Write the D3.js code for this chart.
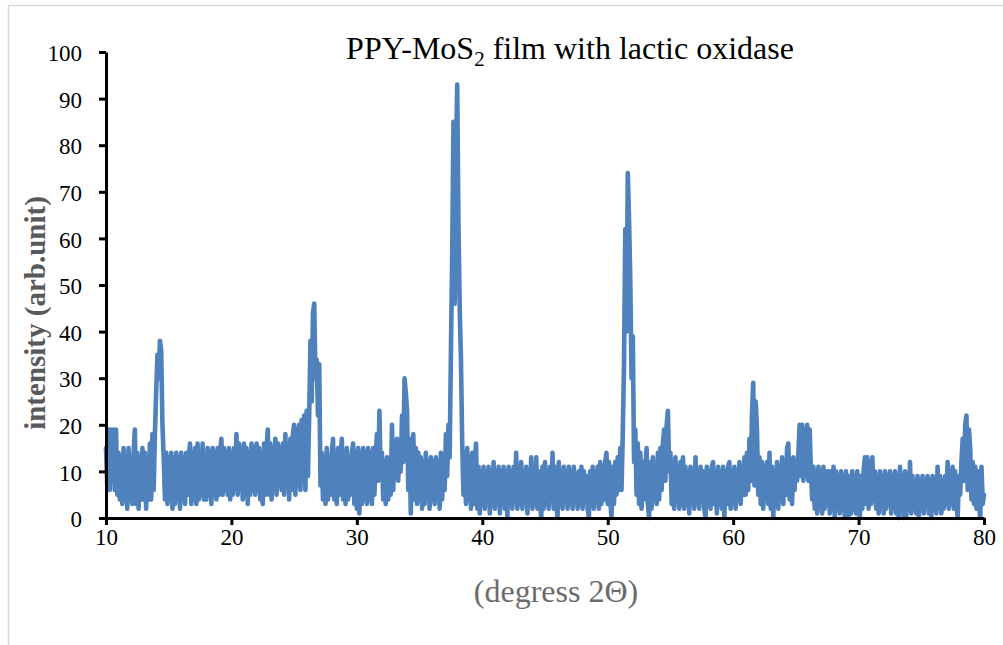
<!DOCTYPE html>
<html>
<head>
<meta charset="utf-8">
<script src="https://cdn.jsdelivr.net/npm/d3@7"></script>
<style>
  body { margin: 0; background: #fff; }
  svg { display: block; }
</style>
</head>
<body>
<div id="chart"></div>
<script>
// XRD pattern, PPY-MoS2 film with lactic oxidase
// intensity sampled every 0.1 degree from 10.0 to 80.0 (read off the plot)
const angleStart = 10;
const angleStep = 0.1;

const intensity = [
  15, 7, 19, 6, 19, 8, 19, 6, 19, 5,    // 10
  14, 4, 13, 3, 15, 4, 13, 2, 15, 4,    // 11
  13, 3, 14, 19, 3, 14, 2, 13, 4, 15,   // 12
  4, 14, 2, 13, 4, 16, 4, 18, 6, 18,    // 13
  27, 35, 30, 38, 36, 20, 13, 4, 14, 3, // 14
  13, 4, 14, 2, 13, 3, 14, 4, 13, 2,    // 15
  14, 4, 13, 3, 14, 5, 13, 16, 3, 14,   // 16
  4, 15, 3, 16, 4, 14, 5, 16, 4, 13,    // 17
  4, 15, 5, 14, 3, 15, 5, 14, 4, 15,    // 18
  5, 14, 17, 5, 15, 6, 14, 5, 15, 4,    // 19
  14, 5, 15, 6, 18, 5, 16, 6, 15, 4,    // 20
  16, 5, 15, 3, 14, 5, 16, 6, 15, 5,    // 21
  16, 6, 15, 4, 14, 3, 16, 5, 15, 19,   // 22
  5, 16, 4, 15, 6, 17, 5, 16, 7, 15,    // 23
  6, 16, 5, 18, 7, 16, 4, 17, 6, 18,    // 24
  20, 5, 19, 7, 20, 6, 21, 8, 22, 6,    // 25
  23, 9, 22, 38, 25, 44, 46, 30, 34, 22, // 26
  33, 7, 14, 4, 13, 3, 15, 4, 13, 5,    // 27
  14, 17, 4, 13, 3, 15, 5, 13, 17, 4,   // 28
  14, 3, 15, 4, 13, 5, 14, 16, 3, 14,   // 29
  2, 15, 1, 14, 3, 15, 4, 14, 3, 15,    // 30
  4, 14, 3, 15, 5, 13, 18, 8, 23, 9,    // 31
  14, 4, 12, 3, 13, 4, 12, 5, 20, 6,    // 32
  15, 9, 17, 8, 16, 10, 22, 12, 30, 27, // 33
  23, 6, 17, 1, 14, 18, 4, 15, 3, 14,   // 34
  4, 13, 2, 12, 3, 14, 5, 12, 2, 13,    // 35
  4, 12, 3, 13, 5, 12, 2, 14, 4, 13,    // 36
  6, 18, 9, 20, 13, 36, 56, 85, 46, 76, // 37
  93, 63, 45, 34, 16, 5, 14, 3, 15, 4,  // 38
  13, 2, 14, 3, 12, 16, 2, 11, 1, 10,   // 39
  3, 11, 2, 10, 4, 11, 1, 10, 3, 12,    // 40
  2, 10, 4, 11, 1, 10, 3, 11, 2, 10,    // 41
  0, 11, 3, 10, 2, 11, 4, 14, 2, 11,    // 42
  3, 12, 2, 10, 4, 11, 1, 10, 3, 13,    // 43
  2, 11, 3, 13, 2, 10, 4, 0, 11, 2,     // 44
  12, 3, 10, 2, 11, 4, 14, 2, 11, 3,    // 45
  0, 12, 3, 10, 2, 11, 4, 10, 2, 11,    // 46
  3, 10, 2, 11, 4, 9, 2, 10, 3, 11,     // 47
  2, 10, 4, 9, 2, 0, 10, 3, 11, 2,      // 48
  10, 4, 11, 2, 12, 3, 11, 4, 12, 14,   // 49
  3, 12, 4, 0, 11, 3, 12, 5, 13, 6,     // 50
  15, 6, 18, 33, 62, 40, 74, 64, 51, 30, // 51
  39, 12, 19, 5, 16, 3, 14, 2, 12, 4,   // 52
  11, 15, 3, 0, 12, 2, 13, 4, 11, 3,    // 53
  14, 4, 15, 6, 16, 19, 8, 20, 23, 10,  // 54
  14, 3, 12, 2, 13, 4, 11, 2, 12, 3,    // 55
  13, 2, 11, 3, 10, 1, 11, 4, 10, 2,    // 56
  13, 3, 10, 2, 11, 4, 10, 2, 0, 11,    // 57
  3, 10, 2, 11, 12, 3, 10, 1, 11, 3,    // 58
  10, 2, 11, 0, 10, 3, 11, 12, 2, 10,   // 59
  3, 11, 2, 10, 4, 12, 3, 11, 5, 13,    // 60
  5, 14, 6, 17, 8, 22, 29, 7, 25, 19,   // 61
  5, 13, 3, 12, 2, 11, 4, 12, 3, 14,    // 62
  2, 11, 0, 10, 3, 12, 2, 11, 4, 13,    // 63
  3, 12, 5, 15, 16, 4, 12, 3, 13, 6,    // 64
  12, 8, 14, 20, 9, 20, 8, 19, 9, 20,   // 65
  8, 19, 10, 4, 11, 2, 10, 1, 11, 2,    // 66
  10, 1, 11, 2, 10, 3, 10, 1, 10, 2,    // 67
  11, 0, 10, 2, 9, 1, 10, 2, 9, 0,      // 68
  10, 2, 0, 9, 1, 10, 2, 9, 1, 10,      // 69
  2, 0, 9, 2, 10, 13, 3, 13, 2, 12,     // 70
  3, 13, 4, 10, 2, 9, 1, 10, 2, 9,      // 71
  1, 10, 2, 9, 3, 10, 1, 9, 2, 10,      // 72
  1, 9, 0, 11, 2, 9, 0, 10, 0, 9,       // 73
  2, 12, 1, 9, 2, 8, 1, 9, 0, 8,        // 74
  2, 9, 1, 8, 3, 9, 1, 8, 0, 9,         // 75
  2, 8, 1, 11, 2, 9, 1, 8, 2, 9,        // 76
  3, 12, 2, 10, 3, 11, 2, 10, 4, 0,     // 77
  9, 5, 12, 17, 8, 20, 22, 6, 19, 15,   // 78
  4, 12, 3, 11, 2, 10, 3, 0, 11, 3,     // 79
  5                                     // 80
];

const xTicks = [10, 20, 30, 40, 50, 60, 70, 80];
const yTicks = [0, 10, 20, 30, 40, 50, 60, 70, 80, 90, 100];

const W = 1003, H = 645;
const margin = { top: 52, right: 19, bottom: 127, left: 106 };
const width = W - margin.left - margin.right;
const height = H - margin.top - margin.bottom;

const svg = d3.select("#chart").append("svg")
    .attr("width", W)
    .attr("height", H);

// chart area border (only left and top edges fall inside the picture)
svg.append("rect")
    .attr("x", 8.5).attr("y", 5.5)
    .attr("width", 1100).attr("height", 700)
    .attr("fill", "none")
    .attr("stroke", "#d9d9d9")
    .attr("stroke-width", 1.5);

const g = svg.append("g")
    .attr("transform", `translate(${margin.left},${margin.top})`);

const x = d3.scaleLinear().domain([10, 80]).range([0, width]);
const y = d3.scaleLinear().domain([0, 100]).range([height, 0]);

const data = intensity.map((v, i) => ({ angle: angleStart + i * angleStep, val: v }));

const line = d3.line()
    .x(d => x(d.angle))
    .y(d => y(d.val));

g.append("path")
    .datum(data)
    .attr("fill", "none")
    .attr("stroke", "#4f81bd")
    .attr("stroke-width", 4.6)
    .attr("stroke-linejoin", "round")
    .attr("stroke-linecap", "round")
    .attr("d", line);

// axes
const xAxis = g.append("g")
    .attr("transform", `translate(0,${height})`)
    .call(d3.axisBottom(x).tickValues(xTicks).tickSize(7).tickSizeOuter(0).tickPadding(4));

const yAxis = g.append("g")
    .call(d3.axisLeft(y).tickValues(yTicks).tickSize(7).tickSizeOuter(0).tickPadding(17));

[xAxis, yAxis].forEach(a => {
    a.select(".domain").attr("stroke", "#000").attr("stroke-width", 3);
    a.selectAll(".tick line").attr("stroke", "#000").attr("stroke-width", 3);
    a.selectAll("text")
        .style("font-family", "'Liberation Serif', serif")
        .style("font-size", "23px")
        .attr("fill", "#000");
});
yAxis.selectAll("text").attr("dy", "0.38em");

// title
const title = svg.append("text")
    .attr("x", 570)
    .attr("y", 59)
    .attr("text-anchor", "middle")
    .style("font-family", "'Liberation Serif', serif")
    .style("font-size", "32px")
    .attr("fill", "#000");
title.append("tspan").text("PPY-MoS");
title.append("tspan").attr("dy", 7).style("font-size", "21px").text("2");
title.append("tspan").attr("dy", -7).text(" film with lactic oxidase");

// axis titles
svg.append("text")
    .attr("x", 556)
    .attr("y", 602)
    .attr("text-anchor", "middle")
    .style("font-family", "'Liberation Serif', serif")
    .style("font-size", "32px")
    .attr("fill", "#6b6b6b")
    .text("(degress 2\u0398)");

svg.append("text")
    .attr("transform", "translate(45,313) rotate(-90)")
    .attr("text-anchor", "middle")
    .style("font-family", "'Liberation Serif', serif")
    .style("font-size", "29px")
    .style("font-weight", "bold")
    .attr("fill", "#595959")
    .text("intensity (arb.unit)");
</script>
</body>
</html>
